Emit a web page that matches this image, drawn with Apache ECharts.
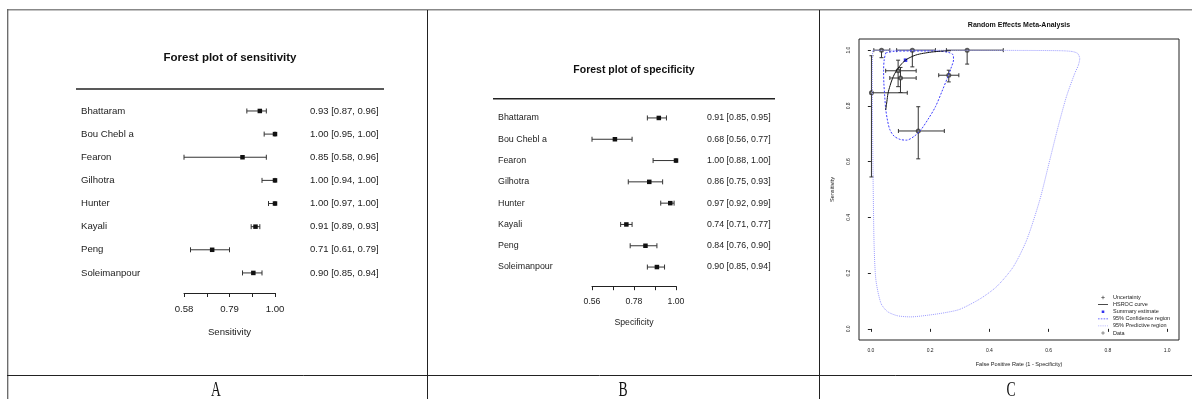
<!DOCTYPE html>
<html>
<head>
<meta charset="utf-8">
<script src="https://cdn.jsdelivr.net/npm/echarts@6.0.0/dist/echarts.min.js"></script>
<style>
  html, body { margin: 0; padding: 0; background: #fff; }
  #chart { width: 1192px; height: 399px; }
</style>
</head>
<body>
<div id="chart"></div>
<script>
// study data (panels A and B)
const studies = ["Bhattaram", "Bou Chebl a", "Fearon", "Gilhotra", "Hunter", "Kayali", "Peng", "Soleimanpour"];
const sens = [0.93, 1.00, 0.85, 1.00, 1.00, 0.91, 0.71, 0.90];
const sensLo = [0.87, 0.95, 0.58, 0.94, 0.97, 0.89, 0.61, 0.85];
const sensHi = [0.96, 1.00, 0.96, 1.00, 1.00, 0.93, 0.79, 0.94];
const spec = [0.91, 0.68, 1.00, 0.86, 0.97, 0.74, 0.84, 0.90];
const specLo = [0.85, 0.56, 0.88, 0.75, 0.92, 0.71, 0.76, 0.85];
const specHi = [0.95, 0.77, 1.00, 0.93, 0.99, 0.77, 0.90, 0.94];

// axis ticks / labels
const ticksA = [0.58, 0.685, 0.79, 0.895, 1.00];
const labelsA = [0.58, 0.79, 1.00];
const ticksB = [0.56, 0.67, 0.78, 0.89, 1.00];
const labelsB = [0.56, 0.78, 1.00];
const ticksC = [0, 0.2, 0.4, 0.6, 0.8, 1.0];

// panel C
const cFpr = [0.092, 0.325, 0.002, 0.140, 0.036, 0.263, 0.160, 0.100];
const cSens = [0.926, 1.000, 0.847, 1.000, 1.000, 0.910, 0.710, 0.900];
const cFprLo = [0.050, 0.255, 0.000, 0.087, 0.010, 0.229, 0.093, 0.064];
const cFprHi = [0.153, 0.447, 0.123, 0.218, 0.064, 0.297, 0.248, 0.153];
const cSensLo = [0.869, 0.950, 0.545, 0.940, 0.973, 0.886, 0.610, 0.848];
const cSensHi = [0.964, 1.000, 0.980, 1.000, 1.000, 0.928, 0.797, 0.938];
const summary = [[0.117, 0.964]];
const hsroc = [[0.05, 0.785], [0.054, 0.815], [0.058, 0.845], [0.065, 0.873], [0.073, 0.898], [0.085, 0.924],
  [0.1, 0.946], [0.117, 0.964], [0.135, 0.975], [0.157, 0.984], [0.185, 0.99], [0.212, 0.994], [0.245, 0.997], [0.27, 0.998]];
const confRegion = [[0.05, 0.99], [0.08, 0.996], [0.13, 0.997], [0.18, 0.997], [0.23, 0.996], [0.262, 0.992],
  [0.278, 0.982], [0.279, 0.965], [0.272, 0.94], [0.26, 0.905], [0.24, 0.852], [0.218, 0.797], [0.193, 0.752],
  [0.168, 0.713], [0.145, 0.69], [0.12, 0.677], [0.098, 0.68], [0.078, 0.692], [0.064, 0.715], [0.056, 0.749],
  [0.05, 0.79], [0.047, 0.833], [0.044, 0.88], [0.043, 0.928], [0.045, 0.965], [0.05, 0.99]];
const predRegion = [[0.006, 0.999], [0.1, 0.9995], [0.3, 0.9995], [0.5, 0.999], [0.64, 0.998], [0.68, 0.995],
  [0.698, 0.988], [0.705, 0.97], [0.7, 0.945], [0.688, 0.916], [0.66, 0.833], [0.632, 0.725], [0.604, 0.606],
  [0.57, 0.462], [0.526, 0.319], [0.481, 0.223], [0.425, 0.152], [0.369, 0.108], [0.3, 0.07], [0.25, 0.058],
  [0.2, 0.05], [0.134, 0.043], [0.09, 0.047], [0.056, 0.062], [0.034, 0.092], [0.017, 0.176], [0.011, 0.3],
  [0.008, 0.5], [0.006, 0.7], [0.005, 0.9], [0.006, 0.999]];

const FONT = "Liberation Sans, Arial, sans-serif";
const INK = "#222";

const fmtCI = (e, l, h) => `${e.toFixed(2)} [${l.toFixed(2)}, ${h.toFixed(2)}]`;

function forestItem(params, api) {
  const y = api.value(3);
  const lo = api.coord([api.value(0), y]);
  const hi = api.coord([api.value(1), y]);
  const pt = api.coord([api.value(2), y]);
  const cap = 2.5, s = 4.5;
  const st = { stroke: "#333", lineWidth: 1 };
  return {
    type: "group",
    children: [
      { type: "line", shape: { x1: lo[0], y1: lo[1], x2: hi[0], y2: hi[1] }, style: st },
      { type: "line", shape: { x1: lo[0], y1: lo[1] - cap, x2: lo[0], y2: lo[1] + cap }, style: st },
      { type: "line", shape: { x1: hi[0], y1: hi[1] - cap, x2: hi[0], y2: hi[1] + cap }, style: st },
      { type: "rect", shape: { x: pt[0] - s / 2, y: pt[1] - s / 2, width: s, height: s }, style: { fill: "#111" } }
    ]
  };
}

function uncertaintyItem(params, api) {
  const x = api.value(0), y = api.value(1);
  const xl = api.coord([api.value(2), y]);
  const xh = api.coord([api.value(3), y]);
  const yl = api.coord([x, api.value(4)]);
  const yh = api.coord([x, api.value(5)]);
  const c = 2;
  const st = { stroke: "#333", lineWidth: 1 };
  return {
    type: "group",
    children: [
      { type: "line", shape: { x1: xl[0], y1: xl[1], x2: xh[0], y2: xh[1] }, style: st },
      { type: "line", shape: { x1: xl[0], y1: xl[1] - c, x2: xl[0], y2: xl[1] + c }, style: st },
      { type: "line", shape: { x1: xh[0], y1: xh[1] - c, x2: xh[0], y2: xh[1] + c }, style: st },
      { type: "line", shape: { x1: yl[0], y1: yl[1], x2: yh[0], y2: yh[1] }, style: st },
      { type: "line", shape: { x1: yl[0] - c, y1: yl[1], x2: yl[0] + c, y2: yl[1] }, style: st },
      { type: "line", shape: { x1: yh[0] - c, y1: yh[1], x2: yh[0] + c, y2: yh[1] }, style: st }
    ]
  };
}

function forestX(gridIndex, min, max, ticks, labels, name, fs, margin, gap) {
  return {
    gridIndex, type: "value", min, max, position: "bottom", offset: 8.5,
    axisLine: { show: true, lineStyle: { color: INK, width: 1 } },
    axisTick: { show: true, length: 4, inside: false, customValues: ticks, lineStyle: { color: INK } },
    axisLabel: { customValues: labels, formatter: (v) => v.toFixed(2), fontSize: fs, margin, color: INK, fontFamily: FONT },
    splitLine: { show: false },
    name, nameLocation: "middle", nameGap: gap,
    nameTextStyle: { fontSize: fs, color: INK, fontFamily: FONT }
  };
}

function catY(gridIndex, data, position, margin, fs) {
  return {
    gridIndex, type: "category", data, inverse: true, position,
    axisLine: { show: false }, axisTick: { show: false }, splitLine: { show: false },
    axisLabel: { align: "left", margin, fontSize: fs, color: INK, fontFamily: FONT }
  };
}

const line = (x1, y1, x2, y2, stroke, w) => ({
  type: "line", silent: true,
  shape: { x1, y1, x2, y2 }, style: { stroke, lineWidth: w }
});
const text = (x, y, t, fs, weight) => ({
  type: "text", x, y, silent: true,
  style: { text: t, fontSize: fs, fontWeight: weight, fontFamily: FONT, fill: "#111", align: "center", verticalAlign: "middle" }
});
const letter = (x, t) => ({
  type: "text", x, y: 390.5, scaleX: 0.65, silent: true,
  style: { text: t, fontSize: 21, fontFamily: "Liberation Serif, serif", fill: "#111", align: "center", verticalAlign: "middle" }
});

// legend icon paths in a 10x6 box (corner specks fix the box size)
const box = "M0,0h0.01v0.01h-0.01zM10,6h-0.01v-0.01h0.01z";
const plusIcon = box + "M4.7,1.2h0.6v1.5h1.5v0.6h-1.5v1.5h-0.6v-1.5h-1.5v-0.6h1.5z";
const solidIcon = box + "M0,2.55h10v0.9h-10z";
const squareIcon = box + "M3.7,1.7h2.6v2.6h-2.6z";
const dashIcon = box + "M0,2.6h1.6v0.8h-1.6zM2.8,2.6h1.6v0.8h-1.6zM5.6,2.6h1.6v0.8h-1.6zM8.4,2.6h1.6v0.8h-1.6z";
const dotIcon = box + "M0,2.6h0.8v0.8h-0.8zM1.8,2.6h0.8v0.8h-0.8zM3.6,2.6h0.8v0.8h-0.8zM5.4,2.6h0.8v0.8h-0.8zM7.2,2.6h0.8v0.8h-0.8zM9,2.6h0.8v0.8h-0.8z";
const ringIcon = box +
  "M6.5,3L6.06,4.06L5,4.5L3.94,4.06L3.5,3L3.94,1.94L5,1.5L6.06,1.94Z" +
  "M5.85,3L5.6,2.4L5,2.15L4.4,2.4L4.15,3L4.4,3.6L5,3.85L5.6,3.6Z";
const flatIcon = { borderWidth: 0 };

const chart = echarts.init(document.getElementById("chart"));
chart.setOption({
  animation: false,
  backgroundColor: "#fff",
  grid: [
    { left: 184, top: 99.4, width: 91, height: 185.1, outerBoundsMode: "none" },
    { left: 592, top: 107.3, width: 84, height: 170.4, outerBoundsMode: "none" },
    { left: 859, top: 39, width: 320, height: 301, show: true, borderColor: INK, borderWidth: 1, backgroundColor: "transparent", outerBoundsMode: "none" }
  ],
  xAxis: [
    forestX(0, 0.58, 1.0, ticksA, labelsA, "Sensitivity", 9.6, 11.5, 34),
    forestX(1, 0.56, 1.0, ticksB, labelsB, "Specificity", 8.7, 10.5, 31.5),
    {
      gridIndex: 2, type: "value", min: -0.04, max: 1.04,
      axisLine: { show: false },
      axisTick: { show: true, length: 3, customValues: ticksC, lineStyle: { color: INK } },
      axisLabel: { customValues: ticksC, formatter: (v) => v.toFixed(1), fontSize: 5, margin: 8, color: INK, fontFamily: FONT },
      splitLine: { show: false },
      name: "False Positive Rate (1 - Specificity)", nameLocation: "middle", nameGap: 21,
      nameTextStyle: { fontSize: 5.6, color: INK, fontFamily: FONT }
    }
  ],
  yAxis: [
    catY(0, studies, "left", 103, 9.6),
    catY(0, studies.map((s, i) => fmtCI(sens[i], sensLo[i], sensHi[i])), "right", 35, 9.5),
    catY(1, studies, "left", 94, 8.9),
    catY(1, studies.map((s, i) => fmtCI(spec[i], specLo[i], specHi[i])), "right", 31, 8.8),
    {
      gridIndex: 2, type: "value", min: -0.04, max: 1.04,
      axisLine: { show: false },
      axisTick: { show: true, length: 3, customValues: ticksC, lineStyle: { color: INK } },
      axisLabel: { customValues: ticksC, formatter: (v) => v.toFixed(1), rotate: 90, fontSize: 5, margin: 8, color: INK, fontFamily: FONT },
      splitLine: { show: false },
      name: "Sensitivity", nameLocation: "middle", nameGap: 24,
      nameTextStyle: { fontSize: 5.6, color: INK, fontFamily: FONT }
    }
  ],
  legend: {
    orient: "vertical", left: 1098, top: 294.5, itemWidth: 10, itemHeight: 6, itemGap: 1.1, padding: 0,
    selectedMode: false,
    textStyle: { fontSize: 5.5, color: INK, fontFamily: FONT },
    data: [
      { name: "Uncertainty", icon: "path://" + plusIcon, itemStyle: flatIcon },
      { name: "HSROC curve", icon: "path://" + solidIcon, itemStyle: flatIcon },
      { name: "Summary estimate", icon: "path://" + squareIcon, itemStyle: flatIcon },
      { name: "95% Confidence region", icon: "path://" + dashIcon, itemStyle: flatIcon },
      { name: "95% Predictive region", icon: "path://" + dotIcon, itemStyle: flatIcon },
      { name: "Data", icon: "path://" + ringIcon, itemStyle: { borderWidth: 0, color: "#333" } }
    ]
  },
  series: [
    {
      type: "custom", name: "Sensitivity", xAxisIndex: 0, yAxisIndex: 0, silent: true,
      renderItem: forestItem, encode: { x: [0, 1, 2], y: 3 },
      data: studies.map((s, i) => [sensLo[i], sensHi[i], sens[i], i])
    },
    {
      type: "custom", name: "Specificity", xAxisIndex: 1, yAxisIndex: 2, silent: true,
      renderItem: forestItem, encode: { x: [0, 1, 2], y: 3 },
      data: studies.map((s, i) => [specLo[i], specHi[i], spec[i], i])
    },
    {
      type: "line", name: "95% Predictive region", xAxisIndex: 2, yAxisIndex: 4, silent: true,
      data: predRegion, smooth: 0.25, symbol: "none",
      lineStyle: { color: "#9c9cff", width: 1, type: [1, 1] }, itemStyle: { color: "#9c9cff" }
    },
    {
      type: "line", name: "95% Confidence region", xAxisIndex: 2, yAxisIndex: 4, silent: true,
      data: confRegion, smooth: 0.3, symbol: "none",
      lineStyle: { color: "#3c3cff", width: 1, type: [2, 1.5] }, itemStyle: { color: "#3c3cff" }
    },
    {
      type: "custom", name: "Uncertainty", xAxisIndex: 2, yAxisIndex: 4, silent: true,
      renderItem: uncertaintyItem, encode: { x: [0, 2, 3], y: [1, 4, 5] },
      itemStyle: { color: "#222" },
      data: cFpr.map((f, i) => [f, cSens[i], cFprLo[i], cFprHi[i], cSensLo[i], cSensHi[i]])
    },
    {
      type: "line", name: "HSROC curve", xAxisIndex: 2, yAxisIndex: 4, silent: true,
      data: hsroc, smooth: 0.4, symbol: "none",
      lineStyle: { color: "#111", width: 1 }, itemStyle: { color: "#111" }
    },
    {
      type: "scatter", name: "Data", xAxisIndex: 2, yAxisIndex: 4, silent: true,
      data: cFpr.map((f, i) => [f, cSens[i]]), symbol: "emptyCircle", symbolSize: 3,
      itemStyle: { color: "#333", borderColor: "#333", borderWidth: 0.7 }
    },
    {
      type: "scatter", name: "Summary estimate", xAxisIndex: 2, yAxisIndex: 4, silent: true,
      data: summary, symbol: "rect", symbolSize: 3.5,
      itemStyle: { color: "#0000ee" }
    }
  ],
  graphic: [
    // table borders
    line(7, 9.8, 1192, 9.8, "#888", 1.6),
    line(7.7, 9, 7.7, 399, "#666", 1.3),
    line(427.5, 10, 427.5, 399, "#222", 1),
    line(819.5, 10, 819.5, 399, "#222", 1),
    line(7, 375.5, 1192, 375.5, "#222", 1),
    // forest plot header rules
    line(76, 89, 384, 89, "#222", 1.6),
    line(493, 98.7, 775, 98.7, "#222", 1.6),
    // titles
    text(230, 58, "Forest plot of sensitivity", 11.5, "bold"),
    text(634, 70, "Forest plot of specificity", 10.5, "bold"),
    text(1019, 25, "Random Effects Meta-Analysis", 7, "bold"),
    // panel letters
    letter(216, "A"),
    letter(623, "B"),
    letter(1011, "C")
  ]
});
</script>
</body>
</html>
